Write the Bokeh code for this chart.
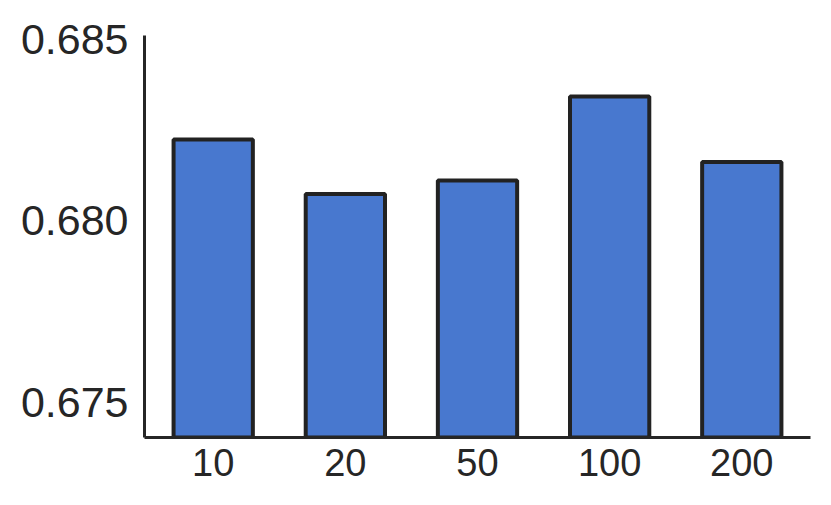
from bokeh.plotting import figure
from bokeh.models import Range1d, FixedTicker
from bokeh.embed import file_html
from bokeh.resources import INLINE

categories = ["10", "20", "50", "100", "200"]
values = [0.68224, 0.68074, 0.68111, 0.68342, 0.68162]
y_ticks = [0.675, 0.680, 0.685]
y_tick_labels = ["0.675", "0.680", "0.685"]

xs = list(range(len(categories)))

p = figure(width=815, height=489, output_backend="svg", toolbar_location=None,
           x_range=Range1d(-0.52, 4.52), y_range=Range1d(0.67404, 0.68510),
           min_border_left=144, min_border_right=5, min_border_top=35, min_border_bottom=52)

p.vbar(x=xs, top=values, bottom=0.6735, width=0.6,
       fill_color="#4878CF", line_color="#222222", line_width=4)

p.xgrid.visible = False
p.ygrid.visible = False
p.outline_line_color = None

p.xaxis.ticker = FixedTicker(ticks=xs)
p.xaxis.major_label_overrides = {i: c for i, c in zip(xs, categories)}
p.yaxis.ticker = FixedTicker(ticks=y_ticks)
p.yaxis.major_label_overrides = {t: l for t, l in zip(y_ticks, y_tick_labels)}

for ax in (p.xaxis[0], p.yaxis[0]):
    ax.axis_line_color = "#262626"
    ax.axis_line_width = 3
    ax.major_tick_line_color = None
    ax.minor_tick_line_color = None
    ax.major_label_text_font = "Liberation Sans"
    ax.major_label_text_color = "#262626"

p.yaxis.major_label_text_font_size = "43px"
p.yaxis.major_label_standoff = 10
p.xaxis.major_label_text_font_size = "38px"
p.xaxis.major_label_standoff = 5

open("out.html", "w").write(file_html(p, INLINE))
